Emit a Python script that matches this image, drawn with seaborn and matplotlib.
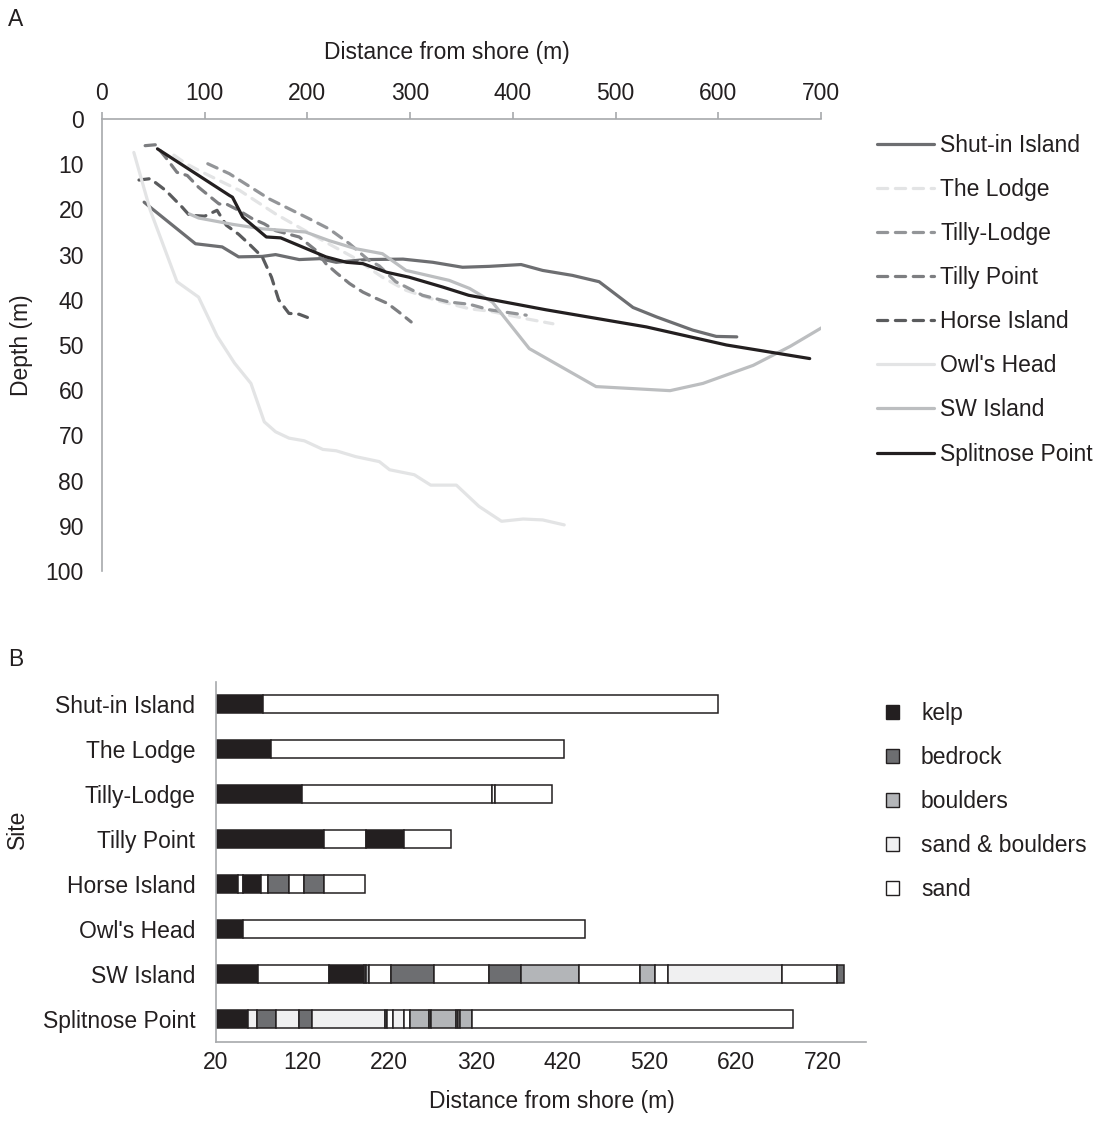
import numpy as np
import pandas as pd
import matplotlib
matplotlib.use("Agg")
import matplotlib.pyplot as plt
import seaborn as sns
from matplotlib.patches import Patch

# ---------------- data ----------------
sites = ["Shut-in Island", "The Lodge", "Tilly-Lodge", "Tilly Point",
         "Horse Island", "Owl's Head", "SW Island", "Splitnose Point"]

# Panel A: depth profiles (distance from shore in m, depth in m)
shutin_dist = [41, 49, 91, 117, 133, 156, 169, 192, 212, 228, 257, 293, 322, 351,
               377, 408, 429, 458, 484, 517, 540, 575, 598, 618]
shutin_depth = [18.4, 19.9, 27.6, 28.3, 30.5, 30.4, 30.0, 31.1, 30.9, 31.7, 31.1, 31.0,
                31.7, 32.8, 32.6, 32.2, 33.5, 34.6, 36.0, 41.7, 43.8, 46.7, 48.1, 48.2]

lodge_dist = [70, 82, 98, 114, 134, 169, 186, 215, 244, 273, 296, 325, 358, 377, 413, 439]
lodge_depth = [8.0, 9.9, 11.8, 13.6, 15.8, 21.0, 23.2, 26.9, 30.5, 35.0, 37.9, 40.1,
               42.0, 42.5, 44.2, 45.3]

tillylodge_dist = [103, 124, 163, 202, 221, 241, 260, 270, 286, 299, 312, 338, 358, 377, 413]
tillylodge_depth = [9.9, 12.1, 17.7, 22.1, 24.3, 27.6, 31.3, 32.5, 36.0, 37.5, 39.0,
                    40.5, 41.0, 42.2, 43.4]

tillypoint_dist = [42, 52, 62, 73, 83, 94, 114, 121, 133, 146, 158, 169, 192, 208, 218,
                   228, 241, 254, 267, 278, 289, 301]
tillypoint_depth = [5.9, 5.7, 8.5, 11.8, 12.5, 15.1, 18.8, 18.8, 20.2, 22.0, 23.2, 24.7,
                    26.1, 29.0, 32.0, 34.0, 36.4, 38.3, 39.7, 40.8, 42.7, 44.9]

horse_dist = [36, 47, 62, 78, 85, 100, 112, 121, 133, 143, 156, 165, 172, 182, 192, 200]
horse_depth = [13.5, 13.2, 15.8, 19.5, 21.3, 21.5, 20.2, 23.5, 25.5, 27.6, 30.5, 35.0,
               40.0, 43.0, 43.2, 43.9]

owls_dist = [31, 47, 73, 94, 112, 129, 145, 158, 169, 182, 197, 215, 228, 247, 270, 280,
             304, 320, 345, 367, 389, 410, 429, 450]
owls_depth = [7.4, 20.2, 36.0, 39.4, 48.0, 54.0, 58.5, 67.0, 69.2, 70.6, 71.2, 73.1, 73.4,
              74.7, 75.8, 77.6, 78.7, 81.0, 81.0, 85.7, 89.0, 88.5, 88.7, 89.8]

sw_dist = [85, 94, 127, 156, 198, 221, 247, 273, 296, 338, 358, 380, 416, 481, 553, 585,
           634, 670, 702, 712]
sw_depth = [21.0, 21.9, 23.3, 24.3, 25.0, 26.9, 28.7, 29.8, 33.5, 35.7, 37.5, 40.5, 50.8,
            59.2, 60.1, 58.5, 54.5, 50.3, 46.0, 44.5]

split_dist = [54, 124, 127, 137, 160, 174, 195, 218, 238, 254, 277, 299, 332, 357, 432,
              530, 608, 689]
split_depth = [6.6, 16.9, 17.3, 21.7, 26.1, 26.3, 28.3, 30.5, 31.7, 32.0, 33.9, 35.0,
               37.2, 39.0, 42.2, 46.0, 50.0, 53.0]

profile_dist = [shutin_dist, lodge_dist, tillylodge_dist, tillypoint_dist,
                horse_dist, owls_dist, sw_dist, split_dist]
profile_depth = [shutin_depth, lodge_depth, tillylodge_depth, tillypoint_depth,
                 horse_depth, owls_depth, sw_depth, split_depth]

# Panel B: habitat transects (segment end distance in m, habitat type)
habitats = ["kelp", "bedrock", "boulders", "sand & boulders", "sand"]

shutin_ends = [74, 599]
shutin_types = ["kelp", "sand"]
lodge_ends = [83, 422]
lodge_types = ["kelp", "sand"]
tillylodge_ends = [119, 339, 342, 408]
tillylodge_types = ["kelp", "sand", "sand", "sand"]
tillypoint_ends = [145, 193, 236.5, 291]
tillypoint_types = ["kelp", "sand", "kelp", "sand"]
horse_ends = [45, 51, 72, 80, 104, 122, 145, 192]
horse_types = ["kelp", "sand", "kelp", "sand", "bedrock", "sand", "bedrock", "sand"]
owls_ends = [51, 446]
owls_types = ["kelp", "sand"]
sw_ends = [68, 150, 190.7, 193, 196, 221.5, 271.4, 335.2, 371.4, 439, 509, 527, 541,
           673.6, 736.6, 744.3]
sw_types = ["kelp", "sand", "kelp", "bedrock", "boulders", "sand", "bedrock", "sand",
            "bedrock", "boulders", "sand", "boulders", "sand", "sand & boulders", "sand",
            "bedrock"]
split_ends = [56.5, 67.7, 89.2, 115.4, 130.4, 215, 217.6, 224.6, 236.6, 243.7, 265.7,
              268.6, 296.8, 299.7, 302, 315, 685.5]
split_types = ["kelp", "sand & boulders", "bedrock", "sand & boulders", "bedrock",
               "sand & boulders", "bedrock", "sand", "sand & boulders", "sand", "boulders",
               "bedrock", "boulders", "bedrock", "sand", "boulders", "sand"]

transect_ends = [shutin_ends, lodge_ends, tillylodge_ends, tillypoint_ends,
                 horse_ends, owls_ends, sw_ends, split_ends]
transect_types = [shutin_types, lodge_types, tillylodge_types, tillypoint_types,
                  horse_types, owls_types, sw_types, split_types]

# ---------------- styles ----------------
line_colors = {"Shut-in Island": "#6d6e71", "The Lodge": "#e3e4e5", "Tilly-Lodge": "#939598",
               "Tilly Point": "#7d7e81", "Horse Island": "#5a5b5d", "Owl's Head": "#e3e4e5",
               "SW Island": "#bcbec0", "Splitnose Point": "#231f20"}
DASH = (3.2, 2.4)
line_dashes = {"Shut-in Island": "", "The Lodge": DASH, "Tilly-Lodge": DASH,
               "Tilly Point": DASH, "Horse Island": DASH, "Owl's Head": "",
               "SW Island": "", "Splitnose Point": ""}
hab_colors = {"kelp": "#231f20", "bedrock": "#6d6e71", "boulders": "#b3b5b8",
              "sand & boulders": "#f0f0f1", "sand": "#ffffff"}

sns.set_style("white")
FONT = ["Liberation Sans", "DejaVu Sans"]
plt.rcParams["font.family"] = FONT
plt.rcParams["lines.dash_capstyle"] = "round"
plt.rcParams["lines.solid_capstyle"] = "round"
FS = 16.5
SPINE = "#a7a9ac"
TXT = "#231f20"

W, H = 1116, 1124
fig = plt.figure(figsize=(W / 100, H / 100), dpi=100)

# ---------------- Panel A ----------------
rows = []
for s, xs, ys in zip(sites, profile_dist, profile_depth):
    for x, y in zip(xs, ys):
        rows.append((s, x, y))
dfA = pd.DataFrame(rows, columns=["site", "dist", "depth"])

axA = fig.add_axes([102 / W, 1 - 571 / H, 719 / W, 452 / H])
sns.lineplot(data=dfA, x="dist", y="depth", hue="site", style="site",
             hue_order=sites, style_order=sites, palette=line_colors,
             dashes=line_dashes, sort=False, estimator=None, linewidth=2.3,
             ax=axA, legend=True)
axA.set_xlim(0, 700)
axA.set_ylim(100, 0)
axA.set_xticks(np.arange(0, 701, 100))
axA.set_yticks(np.arange(0, 101, 10))
axA.xaxis.tick_top()
axA.xaxis.set_label_position("top")
for sp in ["right", "bottom"]:
    axA.spines[sp].set_visible(False)
for sp in ["top", "left"]:
    axA.spines[sp].set_color(SPINE)
    axA.spines[sp].set_linewidth(1.2)
axA.tick_params(axis="both", which="major", length=5, width=1.2, color=SPINE,
                labelsize=FS, labelcolor=TXT, direction="out")
axA.tick_params(axis="x", pad=5)
axA.tick_params(axis="y", pad=8)
axA.set_xlabel("Distance from shore (m)", fontsize=FS, color=TXT)
axA.set_ylabel("Depth (m)", fontsize=FS, color=TXT)
axA.xaxis.set_label_coords(0.48, 1.133)
axA.yaxis.set_label_coords(-0.096, 0.5)

hA, lA = axA.get_legend_handles_labels()
pairs = [(h, l) for h, l in zip(hA, lA) if l in sites]
legA = axA.legend([p[0] for p in pairs], [p[1] for p in pairs],
                  loc="upper left", bbox_to_anchor=(877 / W, 1 - 134 / H),
                  bbox_transform=fig.transFigure, frameon=False, fontsize=FS,
                  handlelength=2.5, handletextpad=0.25, labelspacing=0.92,
                  borderpad=0, borderaxespad=0)
for t in legA.get_texts():
    t.set_color(TXT)
for h in legA.get_lines():
    h.set_linewidth(2.3)

# ---------------- Panel B ----------------
axB = fig.add_axes([216 / W, 1 - 1041.7 / H, 650 / W, 360 / H])
for i, (ends, types) in enumerate(zip(transect_ends, transect_types)):
    ends = np.asarray(ends, dtype=float)
    starts = np.concatenate([[0.0], ends[:-1]])
    axB.barh(y=np.full(len(ends), i), width=ends - starts, left=starts, height=0.4,
             color=[hab_colors[t] for t in types], edgecolor="#231f20", linewidth=1.1)
axB.set_xlim(20, 770)
axB.set_ylim(len(sites) - 0.5, -0.5)
axB.set_xticks(np.arange(20, 721, 100))
axB.set_yticks(np.arange(len(sites)))
axB.set_yticklabels(sites)
axB.set_yticks(np.arange(len(sites) + 1) - 0.5, minor=True)
for sp in ["right", "top"]:
    axB.spines[sp].set_visible(False)
for sp in ["bottom", "left"]:
    axB.spines[sp].set_color(SPINE)
    axB.spines[sp].set_linewidth(1.2)
axB.tick_params(axis="y", which="major", length=0, labelsize=FS, labelcolor=TXT, pad=15)
axB.tick_params(axis="y", which="minor", length=5, width=1.2, color=SPINE, direction="out")
axB.tick_params(axis="x", which="major", length=0, labelsize=FS, labelcolor=TXT, pad=7)
axB.set_xlabel("Distance from shore (m)", fontsize=FS, color=TXT)
axB.set_ylabel("Site", fontsize=FS, color=TXT)
axB.xaxis.set_label_coords(0.517, -0.135)
axB.yaxis.set_label_coords(-0.287, 0.59)

hB = [Patch(facecolor=hab_colors[h], edgecolor="#231f20", linewidth=1.0) for h in habitats]
legB = axB.legend(hB, habitats, loc="upper left", bbox_to_anchor=(886 / W, 1 - 702 / H),
                  bbox_transform=fig.transFigure, frameon=False, fontsize=FS,
                  handlelength=0.58, handleheight=0.58, handletextpad=0.95,
                  labelspacing=0.92, borderpad=0, borderaxespad=0)
for t in legB.get_texts():
    t.set_color(TXT)

fig.text(16 / W, 1 - 20 / H, "A", fontsize=FS, color=TXT, ha="center", va="center")
fig.text(16 / W, 1 - 660 / H, "B", fontsize=FS, color=TXT, ha="center", va="center")

fig.savefig("out.png", dpi=100, facecolor="white")
